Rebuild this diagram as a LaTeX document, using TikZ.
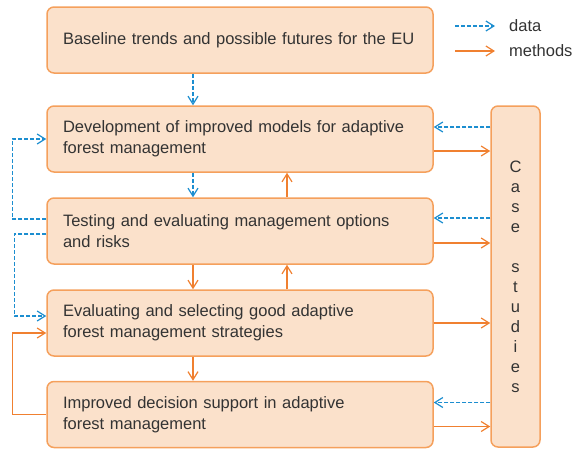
\documentclass[tikz,border=0pt]{standalone}
\usepackage{fontspec}
\setmainfont{Liberation Sans}
\usetikzlibrary{arrows.meta}
\usetikzlibrary{calc}
\definecolor{boxfill}{RGB}{251,225,203}
\definecolor{boxline}{RGB}{245,160,92}
\definecolor{methodorange}{RGB}{240,128,48}
\definecolor{datablue}{RGB}{28,142,208}
\definecolor{textgray}{RGB}{51,51,51}
\tikzset{
	task/.style={
		draw=boxline,
		fill=boxfill,
		line width=1.5pt,
		rounded corners=7pt,
		minimum width=386pt,
		minimum height=66pt,
		text width=354pt,
		inner xsep=16pt,
		align=left,
		text=textgray,
		font=\fontsize{16.5}{21}\selectfont,
	},
	casebox/.style={
		draw=boxline,
		fill=boxfill,
		line width=1.5pt,
		rounded corners=7pt,
		minimum width=49pt,
		minimum height=341pt,
		align=center,
		text=textgray,
		font=\fontsize{16.5}{20}\selectfont,
	},
	legend/.style={
		inner sep=0pt,
		text=textgray,
		font=\fontsize{16.5}{20}\selectfont,
	},
	data/.style={
		datablue,
		line width=1.2pt,
		dash pattern=on 4pt off 2pt,
		-{Straight Barb[length=8pt,width=10pt]}
	},
	method/.style={
		methodorange,
		line width=1.2pt,
		-{Straight Barb[length=8pt,width=10pt]}
	},
}

\begin{document}
\begin{tikzpicture}[x=1pt,y=-1pt]
	\useasboundingbox (0,0) rectangle (587,448);

	\node[task] (trends) at (240,40) {Baseline trends and possible futures for the EU};
	\node[task] (models) at (240,139) {Development of improved models for adaptive\\forest management};
	\node[task] (testing) at (240,231) {Testing and evaluating management options\\and risks};
	\node[task] (strategies) at (240,323) {Evaluating and selecting good adaptive\\forest management strategies};
	\node[task] (support) at (240,414.5) {Improved decision support in adaptive\\forest management};

	\node[casebox] (cases) at (515.5,276.5) {C\\a\\s\\e\\[20pt]s\\t\\u\\d\\i\\e\\s};

	% legend
	\coordinate (datastart) at (455,26);
	\coordinate (methodstart) at (455,51);
	\node[legend,anchor=west] (datalabel) at (509,26) {data};
	\node[legend,anchor=west] (methodlabel) at (509,51) {methods};
	\draw[data] (datastart) -- ([xshift=-14pt]datalabel.west);
	\draw[method] (methodstart) -- ([xshift=-14pt]methodlabel.west);

	% down and up the chain
	\draw[data] ([xshift=-47pt]trends.south) -- ([xshift=-47pt]models.north);
	\draw[data] ([xshift=-47pt]models.south) -- ([xshift=-47pt]testing.north);
	\draw[method] ([xshift=47pt]testing.north) -- ([xshift=47pt]models.south);
	\draw[method] ([xshift=-47pt]testing.south) -- ([xshift=-47pt]strategies.north);
	\draw[method] ([xshift=47pt]strategies.north) -- ([xshift=47pt]testing.south);
	\draw[method] ([xshift=-47pt]strategies.south) -- ([xshift=-47pt]support.north);

	% feedback loops on the left
	\draw[data] ([yshift=12pt]testing.west) -- ++(-34,0) |- (models.west);
	\draw[data] ([yshift=-3pt]testing.west) -- ++(-32,0) |- ([yshift=7pt]strategies.west);
	\draw[method] (support.west) -- ++(-34,0) |- ([yshift=-10pt]strategies.west);

	% case studies
	\draw[data] ([yshift=12pt]cases.west |- models.east) -- ([yshift=12pt]models.east);
	\draw[method] ([yshift=-12pt]models.east) -- ([yshift=-12pt]cases.west |- models.east);
	\draw[data] ([yshift=13pt]cases.west |- testing.east) -- ([yshift=13pt]testing.east);
	\draw[method] ([yshift=-12pt]testing.east) -- ([yshift=-12pt]cases.west |- testing.east);
	\draw[method] (strategies.east) -- (cases.west |- strategies.east);
	\draw[data] ([yshift=12pt]cases.west |- support.east) -- ([yshift=12pt]support.east);
	\draw[method] ([yshift=-12pt]support.east) -- ([yshift=-12pt]cases.west |- support.east);
\end{tikzpicture}
\end{document}
